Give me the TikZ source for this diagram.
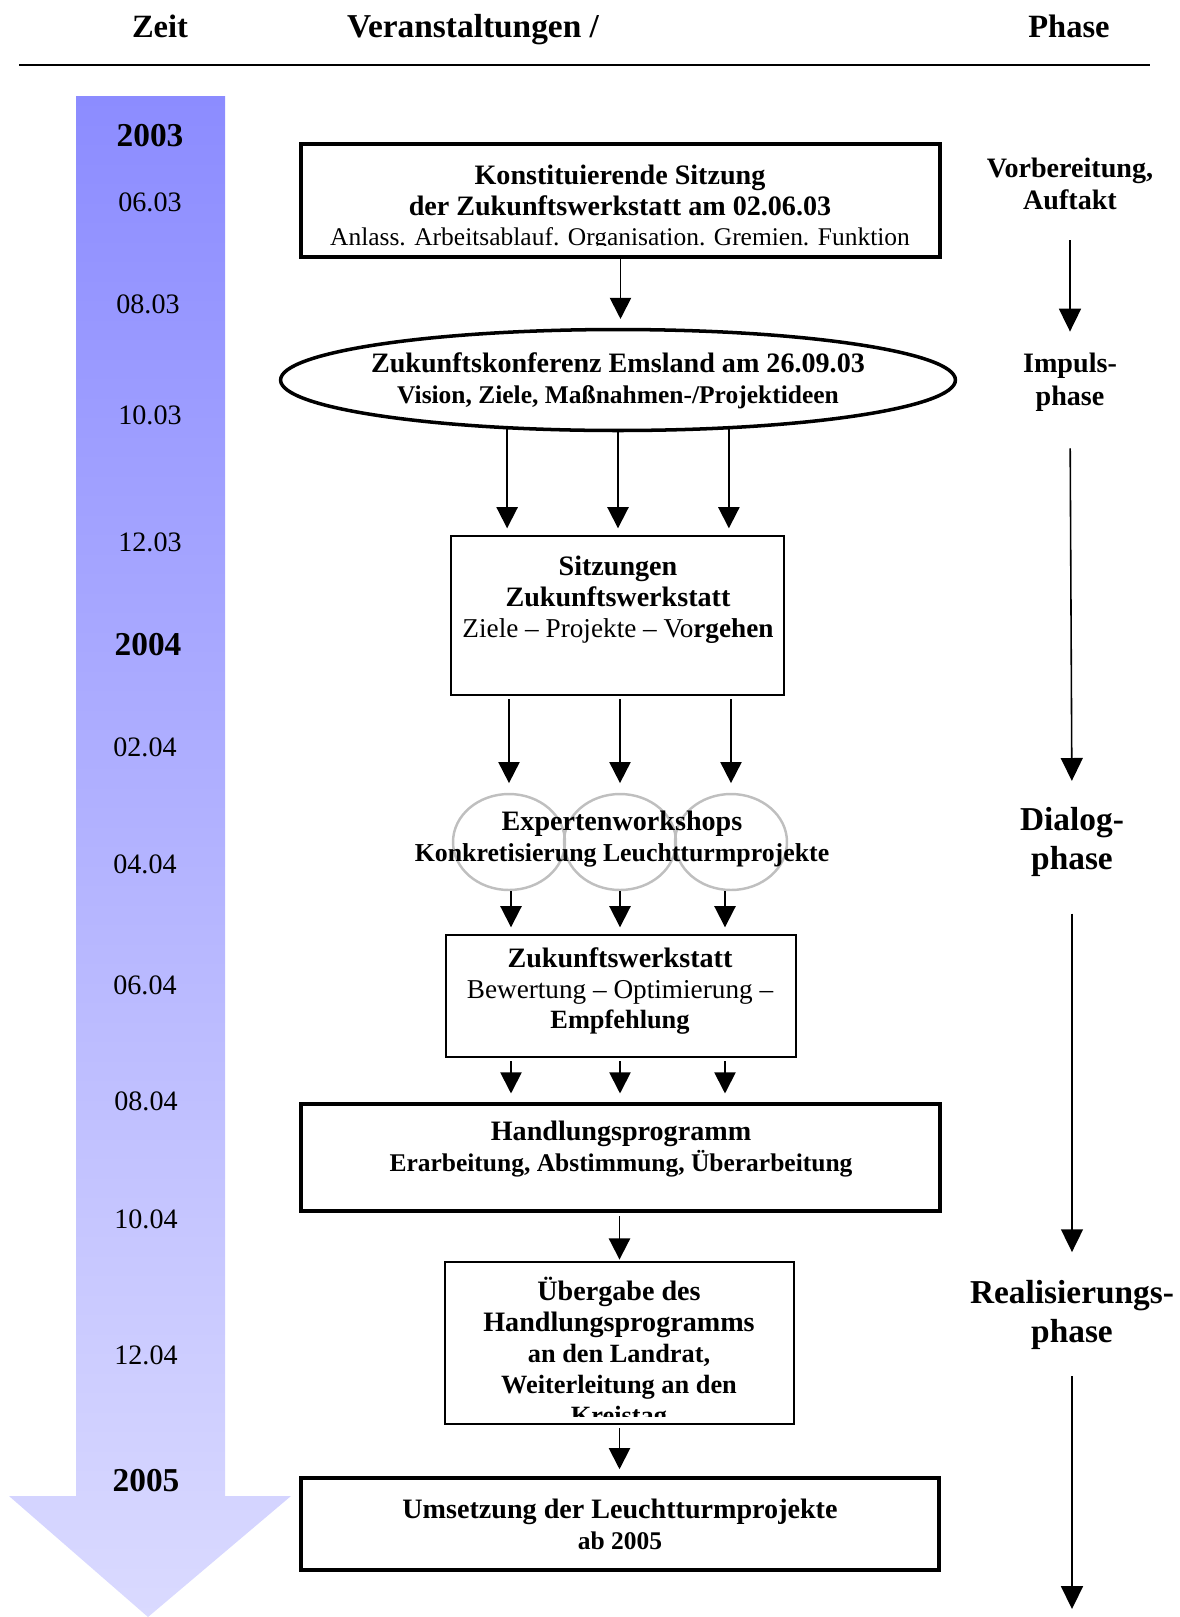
\documentclass[tikz,border=0pt]{standalone}
\usepackage{fontspec}
\setmainfont{Liberation Serif}
\usetikzlibrary{arrows.meta,shapes.geometric}
\definecolor{zeitoben}{RGB}{140,140,255}
\definecolor{zeitunten}{RGB}{218,218,255}
\begin{document}
\begin{tikzpicture}[x=0.02cm,y=-0.02cm,
    pfeil/.style={-{Triangle[width=12pt,length=12pt]},line width=1.1pt},
    dick/.style={draw,line width=2pt,inner sep=0pt,align=center,font=\fontsize{16}{17.6}\selectfont\bfseries},
    duenn/.style={draw,line width=0.8pt,inner sep=0pt,align=center,font=\fontsize{16}{17.6}\selectfont\bfseries},
    kreis/.style={draw=gray!50,line width=1.4pt,ellipse,minimum width=2.24cm,minimum height=1.92cm,inner sep=0pt},
    txt/.style={align=center,inner sep=0pt,font=\fontsize{16}{17.6}\selectfont\bfseries},
    zeit/.style={inner sep=0pt,font=\fontsize{16}{18}\selectfont},
    jahr/.style={inner sep=0pt,font=\fontsize{19}{21}\selectfont\bfseries},
    phase/.style={align=center,inner sep=0pt,font=\fontsize{16}{18.5}\selectfont\bfseries},
    kopf/.style={inner sep=0pt,font=\fontsize{18.5}{20}\selectfont\bfseries}]
\useasboundingbox (0,0) rectangle (1180,1617);
% Kopfzeile
\node[kopf] (zeit) at (160,26) {Zeit};
\node[kopf,font=\fontsize{19}{20}\selectfont\bfseries] (veran) at (473,30) {Veranstaltungen /};
\node[kopf] (phase) at (1069,26) {Phase};
\draw[line width=1.1pt] (19,65) -- (1150,65);
% Zeitpfeil
\shade[top color=zeitoben,bottom color=zeitunten] (76,96) -- (225,96) -- (225,1496) -- (291,1496) -- (148,1617) -- (9,1496) -- (76,1496) -- cycle;
\node[jahr] (j2003) at (150,136) {2003};
\node[jahr] (j2004) at (148,645) {2004};
\node[jahr] (j2005) at (146,1481) {2005};
\foreach \t/\x/\y in {06.03/150/202,08.03/148/304,10.03/150/415,12.03/150/542,02.04/145/747,04.04/145/864,06.04/145/985,08.04/146/1101,10.04/146/1219,12.04/146/1355}
  \node[zeit] (m\y) at (\x,\y) {\t};
% Veranstaltungen
\node[dick,minimum width=12.78cm,minimum height=2.26cm] (k1) at (620.5,200.5) {};
\begin{scope}
  \clip (301,144) rectangle (940,245);
  \node[txt] (k1txt) at (620,208) {Konstituierende Sitzung\\der Zukunftswerkstatt am 02.06.03\\{\fontsize{14.5}{17.6}\selectfont\mdseries Anlass. Arbeitsablauf. Organisation. Gremien. Funktion}};
\end{scope}
\node[dick,ellipse,minimum width=13.5cm,minimum height=2.02cm] (ell) at (618,380) {};
\node[txt] (elltxt) at (618,381) {Zukunftskonferenz Emsland am 26.09.03\\{\fontsize{14.5}{17.6}\selectfont Vision, Ziele, Maßnahmen-/Projektideen}};
\node[duenn,minimum width=6.66cm,minimum height=3.18cm] (sitz) at (617.5,615.5) {};
\node[txt] (sitztxt) at (618,600) {Sitzungen\\Zukunftswerkstatt\\{\fontsize{15.5}{17.6}\selectfont{\mdseries Ziele – Projekte – Vo}rgehen}};
\foreach \i/\x in {1/509,2/620,3/731}
  \node[kreis] (c\i) at (\x,842) {};
\node[txt] (ew) at (622,839) {Expertenworkshops\\{\fontsize{14.7}{17.6}\selectfont Konkretisierung Leuchtturmprojekte}};
\node[duenn,minimum width=7cm,minimum height=2.44cm] (zw) at (621,996) {};
\node[txt] (zwtxt) at (620,991) {Zukunftswerkstatt\\{\fontsize{15.5}{17.6}\selectfont\mdseries Bewertung – Optimierung –}\\{\fontsize{15}{17.6}\selectfont Empfehlung}};
\node[dick,minimum width=12.78cm,minimum height=2.14cm] (hp) at (620.5,1157.5) {};
\node[txt] (hptxt) at (621,1149) {Handlungsprogramm\\{\fontsize{14.5}{17.6}\selectfont Erarbeitung, Abstimmung, Überarbeitung}};
\node[duenn,minimum width=6.98cm,minimum height=3.24cm] (ueb) at (619.5,1343) {};
\begin{scope}
  \clip (445,1262) rectangle (794,1416);
  \node[txt] (uebtxt) at (619,1354) {Übergabe des\\Handlungsprogramms\\{\fontsize{15}{17}\selectfont an den Landrat,}\\{\fontsize{15}{17}\selectfont Weiterleitung an den}\\{\fontsize{15}{17}\selectfont Kreistag}};
\end{scope}
\node[dick,minimum width=12.76cm,minimum height=1.84cm] (ums) at (620,1524) {Umsetzung der Leuchtturmprojekte\\{\fontsize{14.5}{17.6}\selectfont ab 2005}};
% Pfeile Mitte
\draw[pfeil,shorten >=5pt] (k1.south) -- (k1.south |- ell.north);
\foreach \w in {204,270,336}
  \draw[pfeil,shorten >=4pt] (ell.\w) -- (ell.\w |- sitz.north);
\foreach \i in {1,2,3}
  \draw[pfeil,shorten <=2pt,shorten >=5.5pt] (sitz.south -| c\i) -- (c\i.north);
\foreach \i/\d in {1/2,2/0,3/-6} {
  \draw[pfeil,shorten >=4pt] ([xshift=\d*0.02cm]c\i.south) -- ([xshift=\d*0.02cm]c\i.south |- zw.north);
  \draw[pfeil,shorten <=2pt,shorten >=5pt] ([xshift=\d*0.02cm]zw.south -| c\i) -- ([xshift=\d*0.02cm]hp.north -| c\i);
}
\draw[pfeil,shorten <=2pt,shorten >=1pt] (hp.south -| ueb.north) -- (ueb.north);
\draw[pfeil,shorten <=2pt,shorten >=4pt] (ueb.south) -- (ueb.south |- ums.north);
% Phasen
\node[phase] (ph1) at (1070,184) {Vorbereitung,\\Auftakt};
\node[phase] (ph2) at (1070,382) {Impuls-\\phase};
\node[phase,font=\fontsize{19}{22}\selectfont\bfseries] (ph3) at (1072,842) {Dialog-\\phase};
\node[phase,font=\fontsize{19}{22}\selectfont\bfseries] (ph4) at (1072,1315) {Realisierungs-\\phase};
\coordinate (ende) at (1072,1609);
\begin{scope}[pfeil/.append style={line width=0.9pt,-{Triangle[width=12.5pt,length=13pt]}}]
  \draw[pfeil,shorten <=17pt,shorten >=12pt] (ph1.south) -- (ph2.north);
  \draw[pfeil,shorten <=21pt,shorten >=15pt] (ph2.south) -- (ph3.north);
  \draw[pfeil,shorten <=21pt,shorten >=16pt] (ph3.south) -- (ph4.north);
  \draw[pfeil,shorten <=15pt] (ph4.south) -- (ende);
\end{scope}
\end{tikzpicture}
\end{document}
